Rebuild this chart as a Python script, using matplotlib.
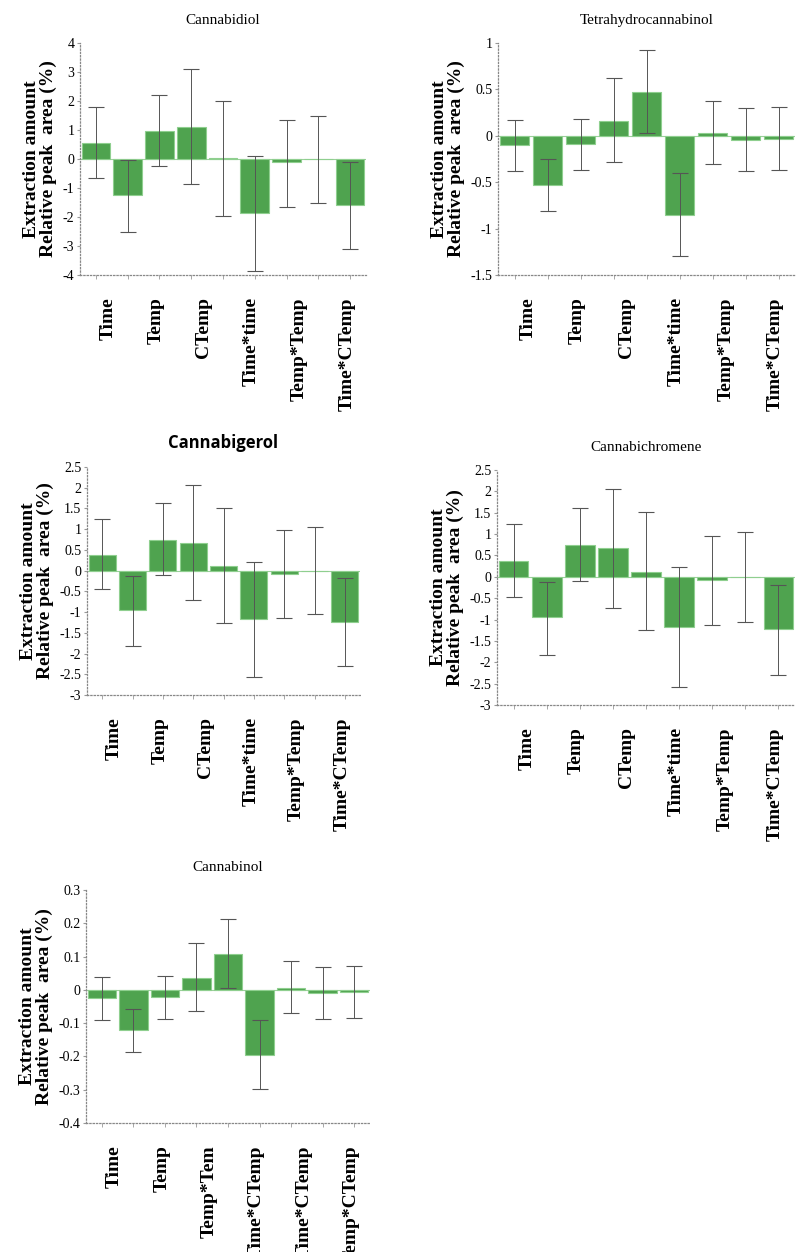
import matplotlib
matplotlib.use("Agg")
import matplotlib.pyplot as plt
import numpy as np

labels_std = ["Time", "Temp", "CTemp", "Time*time", "Temp*Temp", "Time*CTemp"]
labels_cbn = ["Time", "Temp", "Temp*Tem", "Time*CTemp", "Time*CTemp", "Temp*CTemp"]

cbd_val = [0.55, -1.25, 0.95, 1.1, 0.02, -1.85, -0.12, 0.0, -1.6]
cbd_lo = [-0.65, -2.5, -0.25, -0.85, -1.95, -3.85, -1.65, -1.5, -3.1]
cbd_hi = [1.8, -0.05, 2.2, 3.1, 2.0, 0.1, 1.35, 1.5, -0.1]

thc_val = [-0.1, -0.53, -0.09, 0.16, 0.47, -0.85, 0.03, -0.04, -0.03]
thc_lo = [-0.38, -0.81, -0.37, -0.28, 0.03, -1.3, -0.3, -0.38, -0.37]
thc_hi = [0.17, -0.25, 0.18, 0.62, 0.92, -0.4, 0.37, 0.3, 0.31]

cbg_val = [0.38, -0.95, 0.75, 0.67, 0.12, -1.17, -0.08, 0.0, -1.23]
cbg_lo = [-0.45, -1.82, -0.1, -0.72, -1.27, -2.57, -1.15, -1.05, -2.3]
cbg_hi = [1.25, -0.12, 1.62, 2.07, 1.52, 0.22, 0.97, 1.05, -0.18]

cbc_val = [0.38, -0.95, 0.75, 0.67, 0.12, -1.17, -0.08, 0.0, -1.23]
cbc_lo = [-0.47, -1.82, -0.1, -0.72, -1.25, -2.57, -1.13, -1.05, -2.3]
cbc_hi = [1.24, -0.12, 1.61, 2.06, 1.51, 0.22, 0.96, 1.04, -0.18]

cbn_val = [-0.025, -0.122, -0.022, 0.037, 0.108, -0.195, 0.007, -0.01, -0.007]
cbn_lo = [-0.09, -0.186, -0.087, -0.065, 0.006, -0.298, -0.07, -0.088, -0.085]
cbn_hi = [0.04, -0.058, 0.042, 0.142, 0.212, -0.092, 0.087, 0.07, 0.072]

panels = [
    ("Cannabidiol", cbd_val, cbd_lo, cbd_hi, labels_std, (-4, 4), np.arange(-4, 5, 1), [80, 43, 366, 275], "serif"),
    ("Tetrahydrocannabinol", thc_val, thc_lo, thc_hi, labels_std, (-1.5, 1), np.arange(-1.5, 1.01, 0.5), [498, 43, 795, 275], "serif"),
    ("Cannabigerol", cbg_val, cbg_lo, cbg_hi, labels_std, (-3, 2.5), np.arange(-3, 2.51, 0.5), [87, 467, 360, 695], "sans"),
    ("Cannabichromene", cbc_val, cbc_lo, cbc_hi, labels_std, (-3, 2.5), np.arange(-3, 2.51, 0.5), [497, 470, 795, 705], "serif"),
    ("Cannabinol", cbn_val, cbn_lo, cbn_hi, labels_cbn, (-0.4, 0.3), np.arange(-0.4, 0.31, 0.1), [86, 890, 370, 1123], "serif"),
]

W, H = 800, 1252
fig = plt.figure(figsize=(W / 100, H / 100), dpi=100)
serif = "Liberation Serif"

def fmt(v):
    v = round(float(v), 2)
    if v == 0:
        return "0"
    return "%g" % v

for title, val, lo, hi, labs, ylim, yt, box, tstyle in panels:
    l, t, r, b = box
    ax = fig.add_axes([l / W, 1 - b / H, (r - l) / W, (b - t) / H])
    x = np.arange(len(val))
    val = np.array(val); lo = np.array(lo); hi = np.array(hi)
    ax.bar(x, val, width=0.9, color="#4fa34f", edgecolor="#8fcf8f", linewidth=0.8, zorder=2)
    ax.errorbar(x, val, yerr=[val - lo, hi - val], fmt="none", ecolor="#555555",
                elinewidth=0.7, capsize=5.5, capthick=0.8, zorder=3)
    ax.axhline(0, color="#9ccf9c", lw=0.8, zorder=1)
    ax.set_xlim(-0.5, len(val) - 0.5)
    ax.set_ylim(*ylim)
    ax.set_yticks(yt)
    ax.set_yticklabels([fmt(v) for v in yt], fontfamily=serif, fontsize=10)
    ax.set_xticks(x, minor=True)
    ax.set_xticks([i * 1.5 + 0.4 for i in range(len(labs))])
    ax.set_xticklabels(labs, rotation=90, fontfamily=serif, fontweight="bold", fontsize=14, va="top")
    ax.tick_params(axis="x", which="major", length=0, pad=16)
    ax.tick_params(axis="x", which="minor", length=3, color="#999999")
    ax.tick_params(axis="y", length=2, color="#999999", pad=2)
    for s in ["top", "right"]:
        ax.spines[s].set_visible(False)
    for s in ["left", "bottom"]:
        ax.spines[s].set_linestyle(":")
        ax.spines[s].set_color("#888888")
        ax.spines[s].set_linewidth(0.9)
    ax.set_ylabel("Extraction amount\nRelative peak  area (%)", fontfamily=serif,
                  fontweight="bold", fontsize=14, labelpad=4, linespacing=1.0)
    if tstyle == "sans":
        ax.set_title(title, fontfamily="Open Sans", fontweight="bold", fontsize=12, pad=14)
    else:
        ax.set_title(title, fontfamily=serif, fontsize=11, pad=14)

fig.savefig("out.png", dpi=100, facecolor="white")
